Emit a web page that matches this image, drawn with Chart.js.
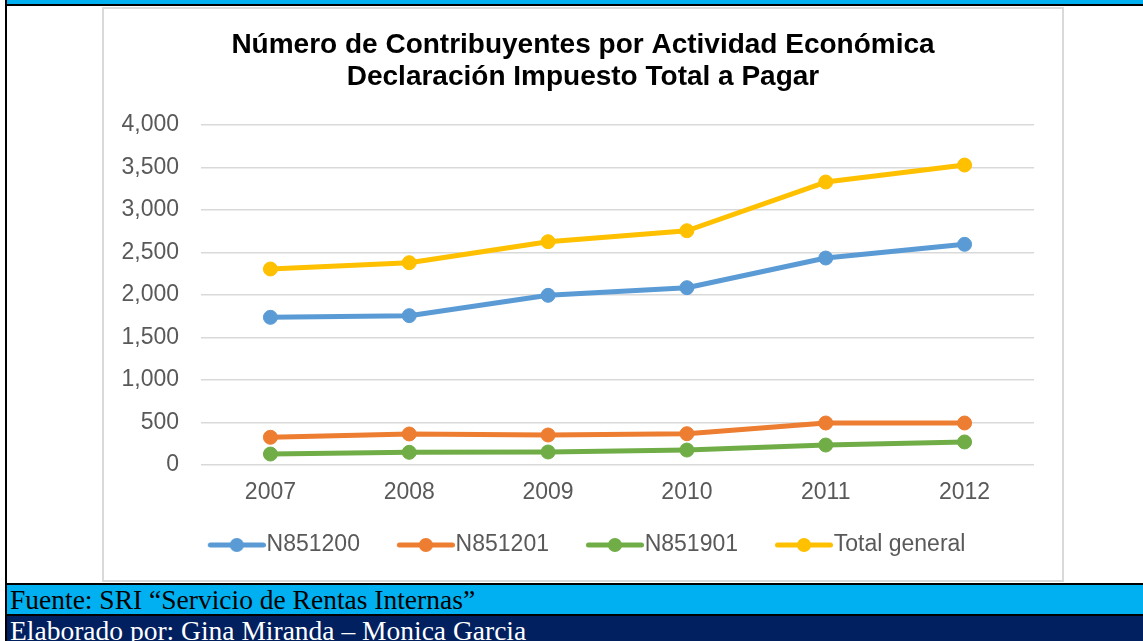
<!DOCTYPE html>
<html>
<head>
<meta charset="utf-8">
<script src="https://cdn.jsdelivr.net/npm/chart.js@4"></script>
<style>
  body { margin: 0; width: 1143px; height: 641px; overflow: hidden; background: #fff; position: relative; }
  .blk { position: absolute; background: #000; }
  #topbar { position: absolute; left: 7px; top: 0; width: 1136px; height: 4px; background: #00B0F0; }
  #chartbox { position: absolute; left: 102px; top: 7px; width: 962px; height: 575px; border: 2px solid #D9D9D9; box-sizing: border-box; }
  #cv { position: absolute; left: 104px; top: 9px; }
  .foot { position: absolute; left: 7px; width: 1136px; height: 29px; line-height: 29px; padding-left: 3px; box-sizing: border-box;
          font-family: "Liberation Serif", "Times New Roman", serif; font-size: 27.5px; white-space: nowrap; }
  #fuente { top: 585px; background: #00B0F0; color: #000; }
  #elab { top: 616px; background: #002060; color: #fff; }
</style>
</head>
<body>
<div id="topbar"></div>
<div class="blk" style="left:5px;top:4px;width:1138px;height:2px"></div>
<div class="blk" style="left:5px;top:0;width:2px;height:641px"></div>
<div id="chartbox"></div>
<canvas id="cv" width="958" height="571"></canvas>
<div class="blk" style="left:5px;top:583px;width:1138px;height:2px"></div>
<div class="foot" id="fuente">Fuente: SRI “Servicio de Rentas Internas”</div>
<div class="blk" style="left:5px;top:614px;width:1138px;height:2px"></div>
<div class="foot" id="elab">Elaborado por: Gina Miranda – Monica Garcia</div>

<script>
var years = ["2007", "2008", "2009", "2010", "2011", "2012"];
var seriesNames = ["N851200", "N851201", "N851901", "Total general"];

var n851200 = [1737, 1757, 1996, 2086, 2435, 2596];
var n851201 = [326, 365, 353, 368, 494, 494];
var n851901 = [129, 149, 153, 176, 235, 271];
var totalGeneral = [2306, 2380, 2627, 2756, 3329, 3529];

var yTickValues = [0, 500, 1000, 1500, 2000, 2500, 3000, 3500, 4000];

var seriesColors = ["#5B9BD5", "#ED7D31", "#70AD47", "#FFC000"];

var titleLines = [
  "Número de Contribuyentes por Actividad Económica",
  "Declaración Impuesto Total a Pagar"
];

Chart.defaults.font.family = '"Liberation Sans", Arial, sans-serif';

// legend marker: line with a dot, blank on the left so the text sits close to it
var legendBox = 54.5;
function makeMarker(color) {
  var c = document.createElement("canvas");
  c.width = Math.round(legendBox + 21);
  c.height = 16;
  var g = c.getContext("2d");
  var x0 = c.width - 58;
  g.strokeStyle = color;
  g.lineWidth = 5;
  g.lineCap = "round";
  g.beginPath();
  g.moveTo(x0 + 2.5, 8);
  g.lineTo(c.width - 2.5, 8);
  g.stroke();
  g.fillStyle = color;
  g.beginPath();
  g.arc(x0 + 29, 8, 7, 0, Math.PI * 2);
  g.fill();
  return c;
}

function series(i, values) {
  return {
    label: seriesNames[i],
    data: values,
    borderColor: seriesColors[i],
    backgroundColor: seriesColors[i],
    borderWidth: 5,
    borderCapStyle: "round",
    borderJoinStyle: "round",
    pointRadius: 7,
    pointBorderWidth: 1,
    pointBorderColor: seriesColors[i],
    pointBackgroundColor: seriesColors[i],
    tension: 0
  };
}

new Chart("cv", {
  type: "line",
  data: {
    labels: years,
    datasets: [
      series(0, n851200),
      series(1, n851201),
      series(2, n851901),
      series(3, totalGeneral)
    ]
  },
  options: {
    responsive: false,
    animation: false,
    layout: { padding: { left: 10, right: 10, top: 10, bottom: 13.5 } },
    plugins: {
      title: {
        display: true,
        text: titleLines,
        color: "#000",
        font: { size: 28, weight: "bold", lineHeight: 1.15 },
        padding: { top: 10, bottom: 31.6 }
      },
      legend: {
        position: "bottom",
        labels: {
          usePointStyle: true,
          pointStyleWidth: legendBox,
          padding: 29.7,
          color: "#595959",
          font: { size: 23 },
          generateLabels: function (chart) {
            var items = Chart.defaults.plugins.legend.labels.generateLabels(chart);
            items.forEach(function (it, i) {
              it.pointStyle = makeMarker(seriesColors[i]);
            });
            return items;
          }
        }
      },
      tooltip: { enabled: false }
    },
    scales: {
      x: {
        offset: true,
        grid: { display: false, drawTicks: false },
        border: { display: false },
        ticks: { color: "#595959", font: { size: 23 }, padding: 14 },
        afterFit: function (s) { s.height = 38.8; }
      },
      y: {
        min: 0,
        max: 4000,
        afterBuildTicks: function (s) {
          s.ticks = yTickValues.map(function (v) { return { value: v }; });
        },
        ticks: {
          color: "#595959",
          font: { size: 23 },
          padding: 22,
          callback: function (v) { return Number(v).toLocaleString("en-US"); }
        },
        grid: { color: "#D9D9D9", lineWidth: 1.5, drawTicks: false },
        border: { display: false },
        afterFit: function (s) { s.width = 87; }
      },
      // empty right-hand strip so the plot area ends where the reference's does
      yRight: {
        position: "right",
        grid: { display: false, drawTicks: false },
        border: { display: false },
        ticks: { display: false },
        afterFit: function (s) { s.width = 18; }
      }
    }
  }
});
</script>
</body>
</html>
